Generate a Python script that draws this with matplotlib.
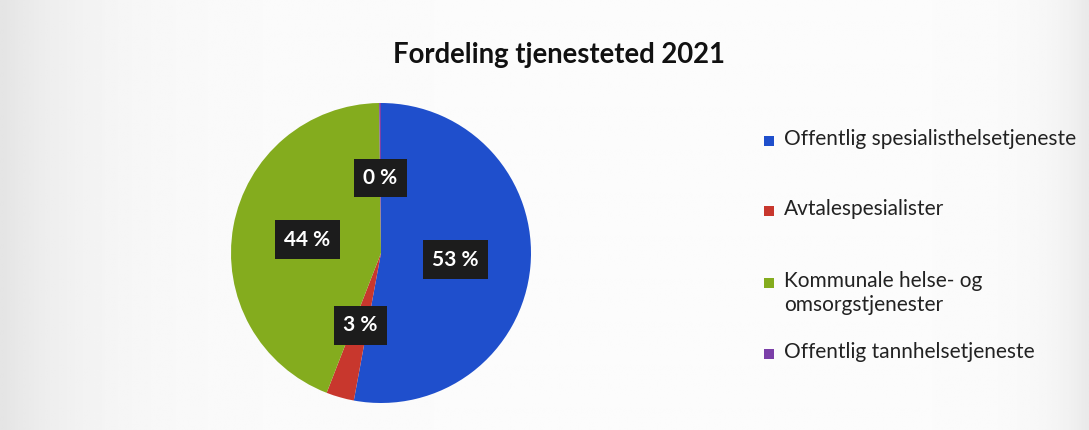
import numpy as np
import matplotlib.pyplot as plt
from matplotlib.patches import Rectangle

plt.rcParams['font.family'] = ['Lato', 'DejaVu Sans']

categories = ['Offentlig spesialisthelsetjeneste', 'Avtalespesialister',
              'Kommunale helse- og\nomsorgstjenester', 'Offentlig tannhelsetjeneste']
shares = [52.9, 3.0, 43.9, 0.2]
colors = ['#1f4fcc', '#c8372d', '#84ac1e', '#7b3fa8']

fig = plt.figure(figsize=(10.89, 4.3), dpi=100)

# light scanned-paper background, greyer towards the edges
bg = fig.add_axes([0, 0, 1, 1], zorder=-1)
xs = np.linspace(0, 1, 400)
shade = 0.985 - 0.09 * np.exp(-xs / 0.08) - 0.07 * np.exp(-(1 - xs) / 0.03)
bg.imshow(np.tile(shade, (10, 1)), cmap='gray', vmin=0, vmax=1, aspect='auto',
          extent=[0, 1, 0, 1])
bg.axis('off')

# pie centred at (381, 253) px with radius 150 px
ax = fig.add_axes([231 / 1089, (430 - 403) / 430, 300 / 1089, 300 / 430])
wedges, _, autotexts = ax.pie(shares, colors=colors, startangle=90, counterclock=False,
                              autopct=lambda p: f'{p:.0f} %', pctdistance=0.5,
                              wedgeprops=dict(linewidth=0))
for t in autotexts:
    t.set_color('white')
    t.set_fontweight('bold')
    t.set_fontsize(15)
    t.set_bbox(dict(boxstyle='square,pad=0.45', facecolor='#1c1c1c', edgecolor='none'))
ax.set_xlim(-1, 1)
ax.set_ylim(-1, 1)
ax.set_aspect('equal')

fig.text(559 / 1089, 1 - 55 / 430, 'Fordeling tjenesteted 2021', ha='center', va='center',
         fontsize=19.8, fontweight='bold', color='#111111')

# legend entries
legend_y = [141, 211, 283, 354]
for lab, col, y in zip(categories, colors, legend_y):
    fig.add_artist(Rectangle(((764) / 1089, 1 - (y + 5) / 430), 10 / 1089, 10 / 430,
                             transform=fig.transFigure, facecolor=col, edgecolor='none'))
    fig.text(784 / 1089, 1 - (y - 12) / 430, lab, ha='left', va='top', fontsize=15,
             color='#222222', linespacing=1.25)

fig.savefig('out.png', dpi=100)
